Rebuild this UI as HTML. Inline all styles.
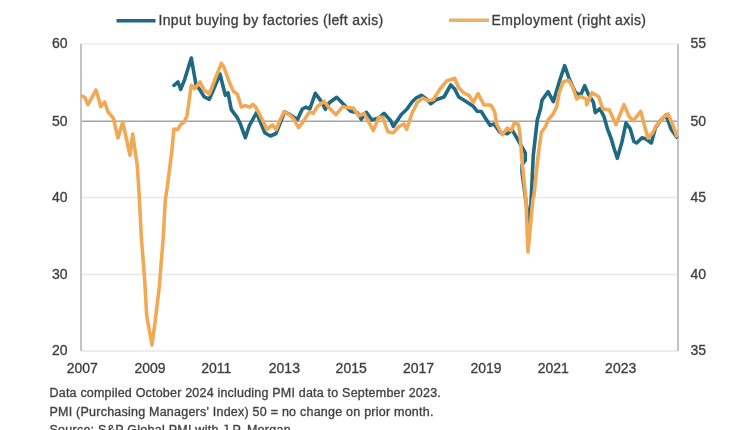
<!DOCTYPE html>
<html><head><meta charset="utf-8"><style>
html,body{margin:0;padding:0;background:#fff;}
body{width:750px;height:430px;overflow:hidden;position:relative;font-family:"Liberation Sans",sans-serif;color:#3a3a3a;}
#wrap{position:absolute;left:0;top:0;width:750px;height:430px;filter:blur(0.45px);}
.t{-webkit-text-stroke:0.35px #4a4a4a;}
.t{position:absolute;white-space:nowrap;}
.leg{font-size:14px;letter-spacing:0.34px;line-height:16px;}
.ax{font-size:14px;line-height:16px;}
.fn{font-size:12.5px;letter-spacing:0.2px;line-height:14px;}
svg{position:absolute;left:0;top:0;}
</style></head><body><div id="wrap">
<svg width="750" height="430" viewBox="0 0 750 430">
<g stroke-width="1.6" fill="none">
<line x1="81" y1="44" x2="678" y2="44" stroke="#ececec"/>
<line x1="81" y1="197.5" x2="678" y2="197.5" stroke="#e8e8e8"/>
<line x1="81" y1="274.5" x2="678" y2="274.5" stroke="#e8e8e8"/>
<line x1="81" y1="351" x2="678" y2="351" stroke="#e6e6e6"/>
<line x1="81" y1="121.3" x2="678" y2="121.3" stroke="#a4a4a4"/>
<line x1="81" y1="44" x2="81" y2="351" stroke="#c4c4c4" stroke-width="2"/>
<line x1="678" y1="44" x2="678" y2="351" stroke="#c4c4c4" stroke-width="2"/>
</g>
<g fill="none" stroke-linejoin="round" stroke-linecap="round">
<polyline points="174.0,85.3 178.0,82.0 180.7,89.3 184.7,79.3 191.3,58.0 196.0,84.7 200.0,90.0 204.0,96.7 209.3,99.3 213.3,90.0 220.0,74.0 225.3,95.3 228.0,92.7 231.3,109.7 237.3,117.7 240.0,123.0 245.3,137.7 249.3,125.7 256.6,112.5 260.3,122.0 265.0,133.0 270.5,136.0 276.0,133.5 281.7,119.3 284.5,111.8 290.1,114.6 293.9,117.4 297.6,119.3 302.3,109.0 306.0,107.1 309.8,109.0 315.3,93.3 321.3,101.3 325.3,109.3 329.3,102.7 336.7,97.3 344.0,104.7 350.7,111.3 357.3,112.7 361.3,119.3 366.3,112.3 372.0,120.0 378.7,118.0 384.0,113.3 390.7,120.7 393.3,126.5 401.3,114.5 407.0,109.0 412.0,102.0 416.0,98.0 421.3,95.3 426.7,99.3 430.7,103.7 436.0,99.7 444.0,97.0 450.7,85.0 454.7,89.0 458.7,97.0 465.3,101.0 473.3,106.3 477.3,111.3 481.3,111.5 485.3,118.0 490.0,125.3 494.0,124.0 499.9,132.2 507.2,133.8 512.1,129.8 518.0,140.0 525.3,153.0 525.3,160.0 522.0,165.0 522.0,172.0 529.5,228.0 531.3,196.0 533.3,155.0 537.3,120.0 540.7,108.0 542.0,100.3 548.0,91.7 553.3,101.7 559.3,81.7 564.7,65.7 569.3,79.0 575.3,92.3 580.7,95.0 584.7,85.7 588.7,95.0 593.3,102.0 595.3,112.7 600.0,108.7 604.0,116.7 607.3,128.3 611.3,139.0 614.0,148.3 617.3,158.3 622.0,141.7 626.0,123.0 630.0,128.3 634.0,141.7 636.7,143.0 642.0,137.7 646.0,139.0 651.3,143.0 655.3,128.3 660.0,121.0 666.0,115.0 671.0,129.0 676.7,137.0" stroke="#1f6a82" stroke-width="3.6"/>
<polyline points="82.0,96.0 84.7,97.3 88.0,104.7 91.3,98.7 96.0,90.0 98.7,98.7 100.7,106.7 104.7,102.0 108.0,112.0 113.3,118.0 118.0,138.0 122.7,122.0 130.0,155.3 132.7,134.0 137.3,166.0 139.3,197.0 141.3,236.7 144.7,280.0 146.7,316.0 152.0,345.0 155.3,320.0 159.3,286.7 163.3,236.7 165.3,200.0 167.3,186.7 172.0,150.0 173.9,129.0 177.6,129.6 180.4,125.0 184.2,122.0 187.0,115.6 191.3,85.3 194.7,88.7 200.0,82.0 204.0,90.0 209.3,94.0 216.0,76.7 221.3,63.3 224.0,67.3 229.3,82.0 233.3,91.3 237.3,94.0 241.3,107.0 245.3,105.7 250.0,107.1 252.8,104.3 255.6,107.1 259.3,113.7 263.1,121.1 266.8,129.5 272.4,124.9 276.1,129.5 279.9,120.2 284.1,111.8 289.2,114.6 293.9,119.3 298.6,127.7 302.3,123.0 309.3,112.0 313.3,113.3 317.3,106.7 324.0,101.3 329.3,108.0 336.0,114.7 342.7,106.7 350.7,108.0 353.3,108.0 358.7,116.0 364.0,113.3 373.3,130.7 378.7,117.3 382.7,117.3 388.0,132.0 393.3,132.7 398.7,126.7 404.0,124.0 406.7,129.3 412.0,113.3 417.3,102.7 422.7,98.0 428.0,100.7 433.3,99.7 440.0,89.0 446.7,81.0 454.7,78.3 458.7,87.7 464.0,93.0 469.3,95.7 473.3,102.3 478.0,93.7 484.0,105.0 490.7,105.0 494.7,111.7 496.6,124.0 502.3,134.7 507.2,128.1 511.3,130.6 514.5,122.4 518.6,124.9 520.2,136.3 521.5,155.0 526.0,201.0 528.0,252.0 532.7,201.0 534.0,195.0 538.2,155.0 541.4,132.2 545.5,126.5 548.0,120.0 552.7,114.7 556.7,106.7 559.3,92.3 563.3,81.7 568.7,80.3 572.7,87.0 576.7,99.0 580.7,96.3 586.0,99.0 586.7,104.7 592.0,92.7 598.7,96.7 602.7,108.7 609.3,110.0 616.0,124.7 624.0,104.7 629.3,116.7 633.3,120.7 640.7,111.3 645.3,128.7 648.0,138.0 652.7,132.7 656.0,126.0 662.7,118.0 668.0,114.0 673.3,126.0 676.7,136.0" stroke="#f2a955" stroke-width="3.6"/>
<line x1="116.5" y1="20.8" x2="155.5" y2="20.8" stroke="#1f6a82" stroke-width="3.4" stroke-linecap="butt"/>
<line x1="449" y1="20.3" x2="489" y2="20.3" stroke="#eeb066" stroke-width="3.4" stroke-linecap="butt"/>
</g>
</svg>
<div class="t leg" style="left:158.5px;top:12px;">Input buying by factories (left axis)</div>
<div class="t leg" style="left:491.5px;top:12px;">Employment (right axis)</div>
<div class="t ax" style="left:52px;top:35.4px;">60</div>
<div class="t ax" style="left:52px;top:112.7px;">50</div>
<div class="t ax" style="left:52px;top:188.9px;">40</div>
<div class="t ax" style="left:52px;top:265.9px;">30</div>
<div class="t ax" style="left:52px;top:342.4px;">20</div>
<div class="t ax" style="left:690.5px;top:35.4px;">55</div>
<div class="t ax" style="left:690.5px;top:112.7px;">50</div>
<div class="t ax" style="left:690.5px;top:188.9px;">45</div>
<div class="t ax" style="left:690.5px;top:265.9px;">40</div>
<div class="t ax" style="left:690.5px;top:342.4px;">35</div>
<div class="t ax" style="left:66.7px;top:359.7px;">2007</div>
<div class="t ax" style="left:134.4px;top:359.7px;">2009</div>
<div class="t ax" style="left:201.2px;top:359.7px;">2011</div>
<div class="t ax" style="left:268.8px;top:359.7px;">2013</div>
<div class="t ax" style="left:335.6px;top:359.7px;">2015</div>
<div class="t ax" style="left:402.9px;top:359.7px;">2017</div>
<div class="t ax" style="left:470.4px;top:359.7px;">2019</div>
<div class="t ax" style="left:537.7px;top:359.7px;">2021</div>
<div class="t ax" style="left:605.1px;top:359.7px;">2023</div>
<div class="t fn" style="left:49.5px;top:386px;">Data compiled October 2024 including PMI data to September 2023.</div>
<div class="t fn" style="left:49.5px;top:404.5px;letter-spacing:0.23px;">PMI (Purchasing Managers' Index) 50 = no change on prior month.</div>
<div class="t fn" style="left:49.5px;top:423px;letter-spacing:0.25px;">Source: S&amp;P Global PMI with J.P. Morgan.</div>
</div></body></html>
